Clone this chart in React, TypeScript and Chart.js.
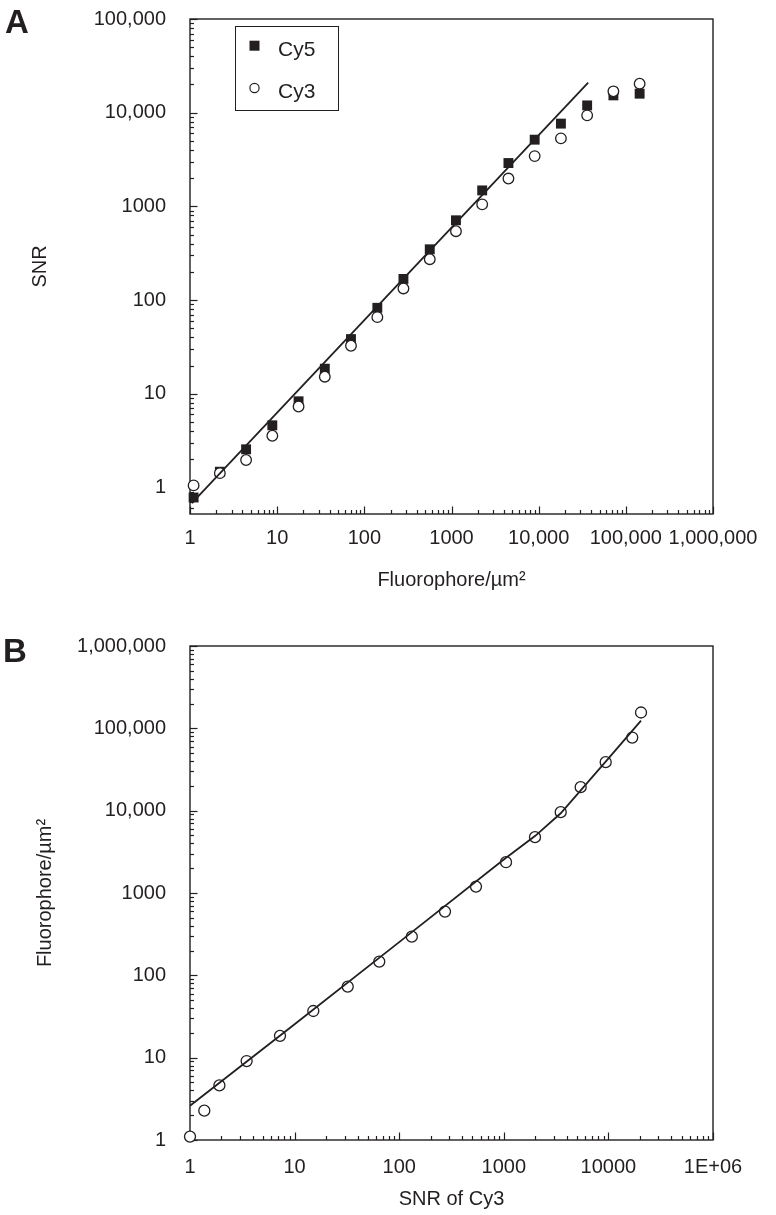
import React, { useEffect, useRef } from 'react';
import { Chart, registerables } from 'chart.js';

Chart.register(...registerables);

const INK = '#231f20';
const FONT = '"Liberation Sans", Arial, Helvetica, sans-serif';

// ---------- Panel A : SNR vs fluorophore density ----------
const densityA = [1.1, 2.2, 4.4, 8.8, 17.6, 35.2, 70.3, 141, 281, 563, 1125, 2250, 4500, 9000, 18000, 36000, 72000, 144000];
const snrCy5 = [0.78, 1.47, 2.55, 4.6, 8.3, 18.5, 38.3, 82.6, 168, 348, 710, 1480, 2900, 5150, 7640, 11960, 15300, 15950];
const snrCy3 = [1.05, 1.42, 1.96, 3.56, 7.3, 15.2, 32.5, 65.7, 133, 273, 543, 1050, 1980, 3440, 5320, 9360, 16900, 20400];
const fitAX = [1.05, 37000];
const fitAY = [0.68, 20900];
const xTicksA = [1, 10, 100, 1000, 10000, 100000, 1000000];
const xLabelsA = ['1', '10', '100', '1000', '10,000', '100,000', '1,000,000'];
const yTicksA = [1, 10, 100, 1000, 10000, 100000];
const yLabelsA = ['1', '10', '100', '1000', '10,000', '100,000'];

// ---------- Panel B : fluorophore density vs SNR of Cy3 ----------
const snrCy3B = [1, 1.37, 1.91, 3.48, 7.25, 15.1, 32.2, 64.5, 132, 274, 542, 1050, 1987, 3500, 5430, 9420, 16900, 20500];
const densityB = [1.1, 2.27, 4.6, 9.1, 18.4, 36.9, 73, 147, 295, 594, 1197, 2366, 4770, 9600, 19300, 38800, 77300, 155600];
const fitBX = [1, 10, 100, 1000, 2000, 3500, 9420, 20500];
const fitBY = [2.6, 25.5, 253, 2550, 4950, 9300, 39500, 124000];
const xTicksB = [1, 10, 100, 1000, 10000, 100000];
const xLabelsB = ['1', '10', '100', '1000', '10000', '1E+06'];
const yTicksB = [1, 10, 100, 1000, 10000, 100000, 1000000];
const yLabelsB = ['1', '10', '100', '1000', '10,000', '100,000', '1,000,000'];

const pts = (xs: number[], ys: number[]) => xs.map((x, i) => ({ x, y: ys[i] }));

function logAxis(o: any) {
  const horizontal = o.position === 'bottom';
  return {
    type: 'logarithmic',
    position: o.position,
    min: o.min,
    max: o.max,
    grid: { display: false, drawTicks: false },
    border: { display: false },
    afterBuildTicks: (s: any) => {
      s.ticks = o.ticks.map((v: number) => ({ value: v }));
    },
    afterFit: (s: any) => {
      if (horizontal) s.height = o.size;
      else s.width = o.size;
      s.paddingTop = 0;
      s.paddingBottom = 0;
      s.paddingLeft = 0;
      s.paddingRight = 0;
    },
    ticks: {
      autoSkip: false,
      maxRotation: 0,
      minRotation: 0,
      padding: o.tickPad,
      color: INK,
      font: { family: FONT, size: 20 },
      callback: (_v: any, i: number) => o.labels[i] ?? '',
    },
    title: {
      display: true,
      text: o.title,
      color: INK,
      font: { family: FONT, size: 20 },
      padding: o.titlePad,
    },
  };
}

function drawLogTicks(ctx: CanvasRenderingContext2D, scale: any, horizontal: boolean, edge: number) {
  const lo = Math.min(scale.min, scale.max);
  const hi = Math.max(scale.min, scale.max);
  const e0 = Math.floor(Math.log10(lo));
  const e1 = Math.ceil(Math.log10(hi));
  for (let e = e0; e <= e1; e++) {
    for (let m = 1; m < 10; m++) {
      const v = m * Math.pow(10, e);
      if (v < lo * 0.9999 || v > hi * 1.0001) continue;
      const p = Math.round(scale.getPixelForValue(v)) + 0.5;
      const len = m === 1 ? 7.5 : 4;
      ctx.beginPath();
      if (horizontal) {
        ctx.moveTo(p, edge);
        ctx.lineTo(p, edge - len);
      } else {
        ctx.moveTo(edge, p);
        ctx.lineTo(edge + len, p);
      }
      ctx.stroke();
    }
  }
}

const framePlugin = {
  id: 'frame',
  beforeDatasetsDraw(chart: any) {
    const { ctx, chartArea } = chart;
    const { left, right, top, bottom } = chartArea;
    ctx.save();
    ctx.strokeStyle = INK;
    ctx.lineWidth = 1.2;
    drawLogTicks(ctx, chart.scales.x, true, bottom);
    drawLogTicks(ctx, chart.scales.y, false, left);
    ctx.lineWidth = 1.4;
    ctx.strokeRect(left, top, right - left, bottom - top);
    ctx.restore();
  },
  afterDraw(chart: any, _args: any, opts: any) {
    const { ctx } = chart;
    ctx.save();
    ctx.fillStyle = INK;
    ctx.textAlign = 'left';
    ctx.textBaseline = 'alphabetic';
    ctx.font = `bold 33px ${FONT}`;
    if (opts.letter) ctx.fillText(opts.letter, opts.letterX, opts.letterY);
    if (opts.legend) {
      const L = opts.legend;
      ctx.fillStyle = '#ffffff';
      ctx.fillRect(L.x, L.y, L.w, L.h);
      ctx.strokeStyle = INK;
      ctx.lineWidth = 1;
      ctx.strokeRect(L.x + 0.5, L.y + 0.5, L.w, L.h);
      ctx.font = `21px ${FONT}`;
      const items = L.items.map((idx: number) => chart.data.datasets[idx]);
      items.forEach((ds: any, k: number) => {
        const cy = L.rowY[k];
        const cx = L.symX;
        if (ds.pointStyle === 'rect') {
          ctx.fillStyle = INK;
          ctx.fillRect(cx - 5, cy - 5, 10, 10);
        } else {
          ctx.beginPath();
          ctx.arc(cx, cy, 4.6, 0, Math.PI * 2);
          ctx.fillStyle = '#fff';
          ctx.fill();
          ctx.lineWidth = 1.2;
          ctx.strokeStyle = INK;
          ctx.stroke();
        }
        ctx.fillStyle = INK;
        ctx.fillText(ds.label, L.textX, L.baseY[k]);
      });
    }
    ctx.restore();
  },
};

function configA(): any {
  return {
    type: 'scatter',
    data: {
      datasets: [
        {
          label: 'fit',
          data: pts(fitAX, fitAY),
          showLine: true,
          borderColor: INK,
          borderWidth: 1.8,
          pointRadius: 0,
          order: 0,
          clip: false,
        },
        {
          label: 'Cy3',
          data: pts(densityA, snrCy3),
          pointStyle: 'circle',
          pointRadius: 5.3,
          backgroundColor: '#ffffff',
          borderColor: INK,
          borderWidth: 1.3,
          order: 1,
          clip: false,
        },
        {
          label: 'Cy5',
          data: pts(densityA, snrCy5),
          pointStyle: 'rect',
          pointRadius: 7,
          backgroundColor: INK,
          borderColor: INK,
          borderWidth: 0,
          order: 2,
          clip: false,
        },
      ],
    },
    options: {
      responsive: false,
      animation: false,
      devicePixelRatio: 1,
      events: [],
      layout: { padding: { top: 19, right: 63, left: 0, bottom: 0 } },
      scales: {
        x: logAxis({
          position: 'bottom', min: 1, max: 1000000, ticks: xTicksA, labels: xLabelsA,
          size: 86, tickPad: 12, title: 'Fluorophore/µm²', titlePad: { top: 0, bottom: 8 },
        }),
        y: logAxis({
          position: 'left', min: 0.52, max: 100000, ticks: yTicksA, labels: yLabelsA,
          size: 190, tickPad: 24, title: 'SNR', titlePad: { top: 28, bottom: 0 },
        }),
      },
      plugins: {
        legend: { display: false },
        tooltip: { enabled: false },
        frame: {
          letter: 'A', letterX: 5, letterY: 33,
          legend: { x: 235, y: 26, w: 103, h: 84, symX: 254.5, textX: 278, items: [2, 1], rowY: [45.7, 88], baseY: [56, 97.5] },
        },
      },
    },
    plugins: [framePlugin],
  };
}

function configB(): any {
  return {
    type: 'scatter',
    data: {
      datasets: [
        {
          label: 'fit',
          data: pts(fitBX, fitBY),
          showLine: true,
          borderColor: INK,
          borderWidth: 1.8,
          pointRadius: 0,
          order: 0,
          clip: false,
        },
        {
          label: 'Cy3',
          data: pts(snrCy3B, densityB),
          pointStyle: 'circle',
          pointRadius: 5.5,
          backgroundColor: '#ffffff',
          borderColor: INK,
          borderWidth: 1.3,
          order: 1,
          clip: false,
        },
      ],
    },
    options: {
      responsive: false,
      animation: false,
      devicePixelRatio: 1,
      events: [],
      layout: { padding: { top: 46, right: 63, left: 0, bottom: 0 } },
      scales: {
        x: logAxis({
          position: 'bottom', min: 1, max: 100000, ticks: xTicksB, labels: xLabelsB,
          size: 75, tickPad: 15.5, title: 'SNR of Cy3', titlePad: { top: 0, bottom: 4 },
        }),
        y: logAxis({
          position: 'left', min: 1, max: 1000000, ticks: yTicksB, labels: yLabelsB,
          size: 190, tickPad: 24, title: 'Fluorophore/µm²', titlePad: { top: 33, bottom: 0 },
        }),
      },
      plugins: {
        legend: { display: false },
        tooltip: { enabled: false },
        frame: { letter: 'B', letterX: 3, letterY: 62 },
      },
    },
    plugins: [framePlugin],
  };
}

function Panel({ make, top, height }: { make: () => any; top: number; height: number }) {
  const ref = useRef<HTMLCanvasElement | null>(null);
  useEffect(() => {
    if (!ref.current) return;
    const chart = new Chart(ref.current, make());
    return () => chart.destroy();
  }, []);
  return (
    <canvas
      ref={ref}
      width={776}
      height={height}
      style={{ position: 'absolute', left: 0, top, width: 776, height, display: 'block' }}
    />
  );
}

export default function App() {
  return (
    <div style={{ position: 'absolute', left: 0, top: 0, width: 776, height: 1215, background: '#ffffff' }}>
      <Panel make={configA} top={0} height={600} />
      <Panel make={configB} top={600} height={615} />
    </div>
  );
}
